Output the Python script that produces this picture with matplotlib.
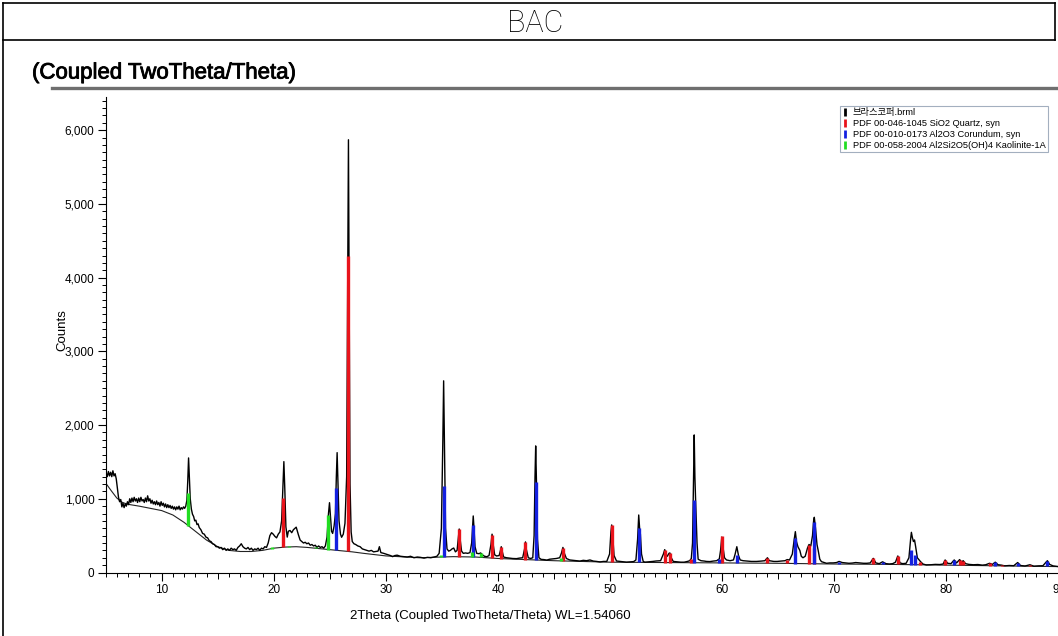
import numpy as np
import matplotlib.pyplot as plt
import matplotlib.patheffects as pe
from matplotlib.lines import Line2D
from matplotlib.ticker import MultipleLocator, FuncFormatter

plt.rcParams['font.family'] = ['Liberation Sans', 'Noto Sans CJK KR']

# measured scan (2theta in degrees, counts)
two_theta = [
    5.00, 5.08, 5.15, 5.25, 5.35, 5.45, 5.55, 5.65, 5.75, 5.85,
    5.95, 6.05, 6.15, 6.25, 6.35, 6.45, 6.55, 6.65, 6.75, 6.85,
    6.95, 7.05, 7.15, 7.25, 7.35, 7.45, 7.55, 7.65, 7.75, 7.85,
    7.95, 8.05, 8.15, 8.25, 8.35, 8.45, 8.55, 8.65, 8.75, 8.85,
    8.95, 9.05, 9.15, 9.25, 9.35, 9.45, 9.55, 9.65, 9.75, 9.85,
    9.95, 10.05, 10.15, 10.25, 10.35, 10.45, 10.55, 10.65, 10.75, 10.85,
    10.95, 11.05, 11.15, 11.25, 11.35, 11.45, 11.55, 11.65, 11.75, 11.85,
    11.95, 12.05, 12.15, 12.25, 12.33, 12.40, 12.47, 12.55, 12.65, 12.75,
    12.85, 12.95, 13.05, 13.15, 13.25, 13.35, 13.5, 13.65, 13.8, 13.95,
    14.1, 14.25, 14.4, 14.55, 14.7, 14.85, 15.0, 15.15, 15.3, 15.45,
    15.6, 15.75, 15.9, 16.05, 16.2, 16.35, 16.5, 16.65, 16.8, 16.95,
    17.1, 17.25, 17.4, 17.55, 17.7, 17.85, 18.0, 18.15, 18.3, 18.45,
    18.6, 18.75, 18.9, 19.05, 19.2, 19.35, 19.5, 19.65, 19.8, 19.95,
    20.1, 20.25, 20.4, 20.55, 20.7, 20.82, 20.90, 20.98, 21.08, 21.2,
    21.3, 21.45, 21.6, 21.75, 21.9, 22.0, 22.1, 22.2, 22.35, 22.5,
    22.65, 22.8, 22.95, 23.1, 23.25, 23.4, 23.55, 23.7, 23.85, 24.0,
    24.15, 24.3, 24.45, 24.6, 24.75, 24.88, 24.97, 25.05, 25.15, 25.25,
    25.38, 25.5, 25.58, 25.65, 25.72, 25.82, 25.95, 26.05, 26.2, 26.35,
    26.5, 26.6, 26.66, 26.72, 26.8, 26.9, 27.0, 27.15, 27.3, 27.5,
    27.7, 27.9, 28.1, 28.3, 28.5, 28.7, 28.9, 29.1, 29.3, 29.42,
    29.55, 29.8, 30.0, 30.2, 30.4, 30.6, 30.8, 31.0, 31.3, 31.6,
    31.9, 32.2, 32.5, 32.8, 33.1, 33.4, 33.7, 34.0, 34.3, 34.55,
    34.75, 34.95, 35.08, 35.15, 35.22, 35.32, 35.45, 35.6, 35.75, 35.9,
    36.05, 36.2, 36.35, 36.45, 36.54, 36.63, 36.75, 36.9, 37.1, 37.3,
    37.5, 37.65, 37.74, 37.79, 37.86, 37.95, 38.1, 38.3, 38.45, 38.6,
    38.8, 39.0, 39.2, 39.37, 39.47, 39.57, 39.7, 39.87, 40.1, 40.22,
    40.29, 40.37, 40.5, 40.76, 41.0, 41.3, 41.65, 41.9, 42.2, 42.37,
    42.45, 42.53, 42.7, 42.9, 43.1, 43.22, 43.30, 43.36, 43.42, 43.52,
    43.65, 43.85, 44.1, 44.35, 44.6, 44.9, 45.2, 45.5, 45.65, 45.79,
    45.92, 46.1, 46.4, 46.7, 47.0, 47.3, 47.6, 47.9, 48.2, 48.5,
    48.8, 49.1, 49.4, 49.7, 49.95, 50.07, 50.14, 50.22, 50.35, 50.57,
    50.9, 51.2, 51.46, 51.8, 52.1, 52.3, 52.45, 52.55, 52.63, 52.7,
    52.8, 52.95, 53.1, 53.5, 53.8, 54.1, 54.5, 54.75, 54.87, 54.97,
    55.1, 55.25, 55.33, 55.45, 55.63, 56.0, 56.3, 56.6, 56.9, 57.1,
    57.24, 57.35, 57.44, 57.50, 57.56, 57.62, 57.75, 57.85, 58.1, 58.4,
    58.6, 58.9, 59.2, 59.5, 59.74, 59.85, 59.96, 60.06, 60.2, 60.38,
    60.7, 61.0, 61.15, 61.30, 61.45, 61.6, 61.86, 62.2, 62.6, 63.06,
    63.5, 63.8, 64.03, 64.2, 64.6, 64.9, 65.3, 65.6, 65.79, 66.0,
    66.25, 66.42, 66.52, 66.62, 66.75, 66.92, 67.05, 67.2, 67.4, 67.6,
    67.74, 67.9, 68.05, 68.15, 68.21, 68.32, 68.45, 68.55, 68.7, 68.85,
    69.1, 69.3, 69.6, 69.9, 70.2, 70.42, 70.7, 71.0, 71.3, 71.6,
    71.9, 72.27, 72.6, 72.9, 73.2, 73.47, 73.7, 74.0, 74.3, 74.6,
    74.9, 75.2, 75.45, 75.66, 75.85, 76.1, 76.4, 76.65, 76.8, 76.87,
    76.95, 77.05, 77.15, 77.25, 77.4, 77.67, 77.9, 78.2, 78.6, 79.0,
    79.4, 79.7, 79.88, 80.1, 80.4, 80.69, 80.9, 81.17, 81.35, 81.49,
    81.7, 82.0, 82.4, 82.8, 83.2, 83.5, 83.84, 84.1, 84.35, 84.6,
    84.9, 85.2, 85.6, 86.0, 86.35, 86.6, 87.0, 87.44, 87.8, 88.2,
    88.6, 89.0, 89.2, 89.5, 90.0,
]
counts = [
    1290, 1340, 1300, 1370, 1310, 1360, 1300, 1380, 1310, 1340,
    1270, 1150, 1020, 960, 990, 890, 940, 880, 930, 900,
    960, 920, 1000, 950, 1010, 960, 1020, 970, 1000, 950,
    1010, 960, 1020, 970, 990, 950, 1010, 960, 1040, 970,
    1000, 940, 980, 930, 960, 920, 970, 920, 950, 900,
    960, 910, 940, 890, 930, 880, 920, 880, 910, 870,
    900, 860, 890, 850, 890, 860, 900, 850, 880, 860,
    890, 870, 900, 980, 1250, 1554, 1300, 1000, 860, 790,
    760, 700, 710, 650, 660, 610, 580, 530, 520, 480,
    470, 430, 420, 390, 380, 350, 350, 330, 340, 310,
    330, 300, 320, 300, 330, 310, 320, 300, 340, 360,
    390, 350, 330, 320, 340, 310, 330, 300, 320, 310,
    330, 300, 330, 320, 350, 340, 400, 500, 540, 520,
    490, 470, 520, 550, 700, 1200, 1504, 1150, 620, 480,
    560, 570, 540, 580, 600, 615, 560, 510, 440, 420,
    400, 410, 390, 400, 370, 380, 360, 370, 340, 360,
    340, 350, 330, 360, 480, 800, 947, 780, 560, 530,
    630, 800, 1300, 1626, 1250, 700, 520, 478, 520, 667,
    1300, 4000, 5870, 4000, 1200, 550, 420, 390, 380, 360,
    350, 320, 310, 300, 290, 300, 280, 285, 290, 350,
    270, 260, 250, 240, 230, 215, 230, 235, 220, 215,
    210, 220, 200, 210, 205, 195, 205, 200, 210, 220,
    260, 600, 1800, 2600, 1800, 600, 320, 290, 300, 320,
    332, 280, 300, 450, 590, 440, 290, 260, 265, 260,
    270, 400, 650, 767, 600, 350, 260, 255, 265, 240,
    220, 214, 230, 380, 520, 380, 240, 224, 230, 300,
    350, 290, 210, 200, 195, 190, 188, 195, 200, 320,
    415, 310, 200, 190, 200, 500, 1300, 1717, 1300, 450,
    200, 178, 175, 168, 180, 185, 190, 200, 260, 340,
    260, 190, 170, 165, 160, 155, 165, 160, 170, 155,
    150, 143, 150, 150, 250, 550, 645, 520, 230, 156,
    150, 145, 140, 145, 148, 170, 450, 780, 600, 520,
    250, 150, 140, 145, 150, 156, 160, 250, 310, 250,
    220, 260, 265, 200, 150, 145, 140, 140, 150, 160,
    190, 400, 1300, 1866, 1300, 1000, 400, 180, 160, 155,
    150, 148, 155, 160, 185, 300, 480, 350, 200, 170,
    160, 170, 250, 350, 230, 170, 160, 155, 150, 150,
    155, 160, 200, 160, 150, 150, 155, 160, 175, 170,
    250, 450, 554, 420, 350, 300, 220, 200, 220, 330,
    380, 360, 500, 700, 749, 600, 380, 305, 180, 147,
    135, 125, 130, 130, 135, 150, 135, 130, 125, 128,
    135, 130, 125, 125, 130, 192, 130, 120, 145, 120,
    115, 120, 140, 224, 130, 120, 125, 200, 450, 545,
    480, 420, 441, 350, 200, 150, 115, 102, 105, 110,
    108, 115, 170, 125, 120, 170, 130, 175, 140, 160,
    120, 110, 105, 108, 100, 105, 125, 110, 140, 105,
    100, 90, 95, 92, 135, 95, 88, 105, 85, 90,
    92, 160, 110, 90, 80,
]

# fitted background
bg_theta = [5, 5.5, 6, 6.5, 7, 8, 9, 10, 11, 12, 13, 14, 15, 16, 17, 18, 19, 20,
            21, 22, 23, 24, 25, 26, 27, 28, 30, 33, 36, 38, 40, 45, 50, 55, 60,
            65, 70, 75, 80, 85, 90]
bg_counts = [1215, 1110, 1010, 950, 925, 900, 870, 840, 780, 680, 560, 440, 350,
             300, 285, 285, 300, 330, 345, 350, 340, 325, 310, 295, 280, 260, 225,
             200, 215, 210, 190, 160, 140, 135, 130, 125, 115, 110, 100, 90, 80]

# reference phases: stick position and height
quartz_pos = [20.86, 26.64, 36.54, 39.47, 40.29, 42.45, 45.79, 50.14, 54.87,
              55.33, 57.24, 59.96, 64.03, 65.79, 67.74, 68.14, 73.47, 75.66,
              77.67, 79.88, 81.17, 81.49, 83.84, 84.95, 87.44]
quartz_top = [1010, 4300, 586, 509, 350, 410, 328, 645, 305, 260, 180, 495, 197,
              170, 373, 330, 192, 224, 147, 170, 170, 160, 125, 100, 105]
corundum_pos = [25.58, 35.15, 37.78, 43.36, 52.55, 57.50, 59.74, 61.30, 66.52,
                68.21, 70.42, 74.30, 76.87, 77.23, 80.69, 84.35, 86.35, 89.0]
corundum_top = [1142, 1174, 645, 1230, 600, 984, 180, 237, 464, 690, 147, 145,
                305, 238, 170, 140, 135, 150]
kaolinite_pos = [12.36, 19.85, 21.4, 23.8, 24.88, 34.95, 37.7, 38.45, 45.6]
kaolinite_top = [1079, 345, 360, 340, 780, 235, 275, 268, 195]

legend_labels = ['브라스코퍼.brml',
                 'PDF 00-046-1045 SiO2 Quartz, syn',
                 'PDF 00-010-0173 Al2O3 Corundum, syn',
                 'PDF 00-058-2004 Al2Si2O5(OH)4 Kaolinite-1A']
phase_colors = ['#e8131b', '#1420e0', '#22dd22']

fig = plt.figure(figsize=(10.58, 6.36), dpi=100)
W, H = 1058, 636

# page frame and header
fig.add_artist(Line2D([3 / W, 3 / W], [0, 1 - 3 / H], color='black', lw=1.2))
fig.add_artist(Line2D([1055 / W, 1055 / W], [1 - 40 / H, 1 - 3 / H], color='black', lw=1.2))
fig.add_artist(Line2D([3 / W, 1055 / W], [1 - 3 / H, 1 - 3 / H], color='black', lw=1.2))
fig.add_artist(Line2D([3 / W, 1055 / W], [1 - 40 / H, 1 - 40 / H], color='black', lw=1.2))
fig.text(535 / W, 1 - 23 / H, 'BAC', ha='center', va='center', fontsize=22,
         family=['Roboto', 'DejaVu Sans'], fontweight='light')
fig.text(32 / W, 1 - 73 / H, '(Coupled TwoTheta/Theta)', ha='left', va='center',
         fontsize=16, path_effects=[pe.withStroke(linewidth=0.6, foreground='black')])
fig.add_artist(Line2D([52 / W, 1], [1 - 88 / H, 1 - 88 / H], color='#6f6f6f', lw=2.4))

ax = fig.add_axes([105.6 / W, 63.5 / H, 953 / W, 475.5 / H])
ax.set_xlim(5, 90)
ax.set_ylim(0, 6450)

ax.plot(bg_theta, bg_counts, color='#222222', lw=0.8, zorder=2)
ax.plot(two_theta, counts, color='black', lw=1.0, zorder=3)

for pos, top, col in [(quartz_pos, quartz_top, phase_colors[0]),
                      (corundum_pos, corundum_top, phase_colors[1]),
                      (kaolinite_pos, kaolinite_top, phase_colors[2])]:
    base = np.interp(pos, bg_theta, bg_counts)
    ax.vlines(pos, base, top, colors=col, lw=2.4, zorder=4)

for s in ['top', 'right']:
    ax.spines[s].set_visible(False)
for s in ['left', 'bottom']:
    ax.spines[s].set_linewidth(0.8)

ax.xaxis.set_major_locator(MultipleLocator(10))
ax.xaxis.set_minor_locator(MultipleLocator(1))
ax.yaxis.set_major_locator(MultipleLocator(1000))
ax.yaxis.set_minor_locator(MultipleLocator(100))
ax.yaxis.set_major_formatter(FuncFormatter(lambda v, p: f'{int(v):,}'))
ax.tick_params(axis='both', which='major', length=6, width=0.8, labelsize=8.5, pad=2)
ax.tick_params(axis='both', which='minor', length=3, width=0.7)

# half-decade ticks on the 2theta axis
sec = ax.secondary_xaxis('bottom')
sec.set_xticks([15, 25, 35, 45, 55, 65, 75, 85])
sec.tick_params(length=4.5, width=0.7, labelbottom=False)
sec.spines['bottom'].set_visible(False)

fig.text(490 / W, 1 - 616 / H, '2Theta (Coupled TwoTheta/Theta) WL=1.54060',
         ha='center', va='center', fontsize=9.5)
fig.text(62 / W, 1 - 330 / H, 'Counts', ha='center', va='center', rotation=90,
         fontsize=9.5)

handles = [Line2D([], [], marker='|', ls='none', color=c, markersize=6, mew=2)
           for c in ['black'] + phase_colors]
leg = ax.legend(handles, legend_labels, loc='upper left',
                bbox_to_anchor=(840 / W, 1 - 106 / H), bbox_transform=fig.transFigure,
                fontsize=6.7, frameon=True, fancybox=False, handlelength=0.6,
                handletextpad=0.5, borderpad=0.25, labelspacing=0.2, borderaxespad=0)
leg.get_frame().set_edgecolor('#8c9bb0')
leg.get_frame().set_linewidth(0.8)

fig.savefig('out.png', dpi=100)
